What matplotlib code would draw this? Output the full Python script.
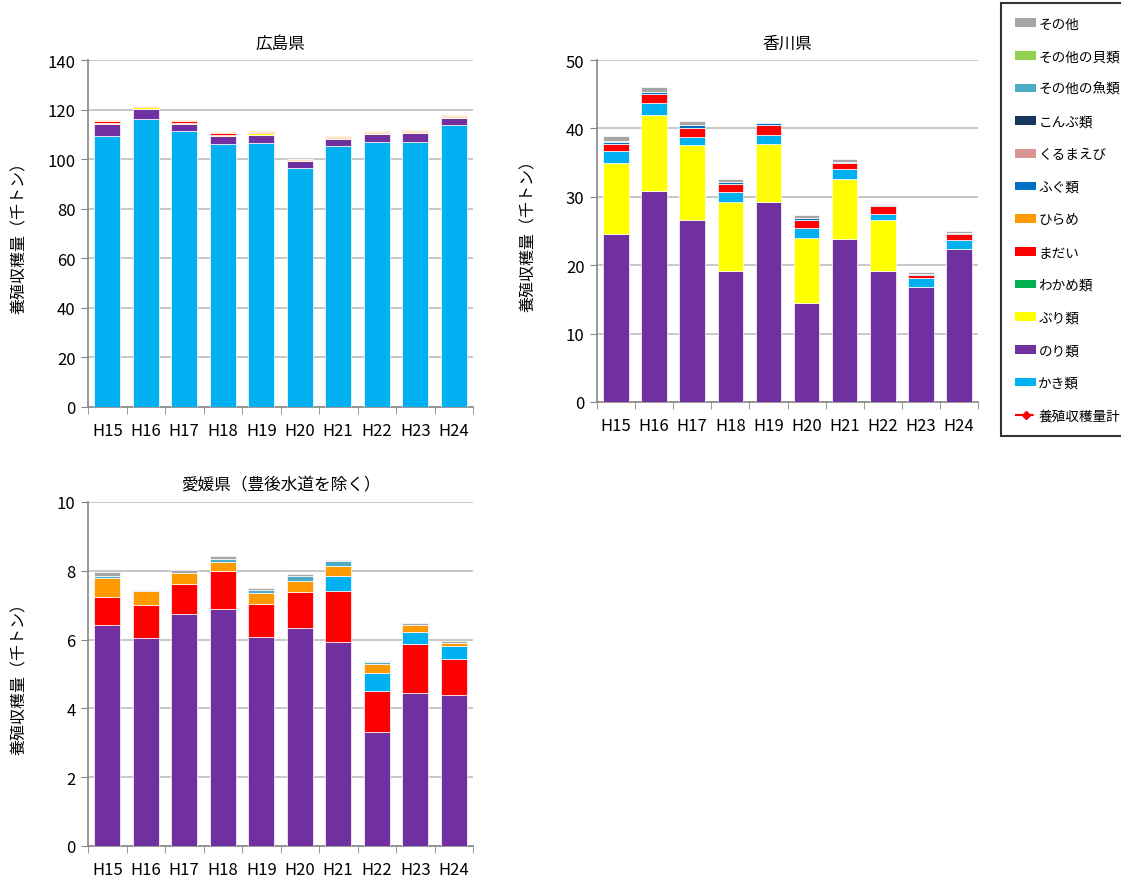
import matplotlib
matplotlib.use("Agg")
import matplotlib.pyplot as plt
from matplotlib.patches import Patch
from matplotlib.lines import Line2D
import numpy as np

plt.rcParams['font.family'] = ['Noto Sans CJK JP', 'DejaVu Sans']

years = ["H15", "H16", "H17", "H18", "H19", "H20", "H21", "H22", "H23", "H24"]

# 広島県 (千トン)
hiroshima_kaki = [109.4, 116.2, 111.3, 106.1, 106.6, 96.5, 105.4, 106.9, 107.0, 113.8]
hiroshima_nori = [4.6, 4.0, 2.9, 3.2, 3.1, 2.6, 2.7, 3.2, 3.6, 2.9]
hiroshima_buri = [0.7, 0.7, 0.5, 0.5, 0.8, 0.5, 0.4, 0.4, 0.3, 0.5]
hiroshima_madai = [0.7, 0.4, 0.7, 0.8, 0.5, 0.4, 0.4, 0.5, 0.5, 0.4]
hiroshima_hirame = [0.2, 0.3, 0.2, 0.2, 0.3, 0.2, 0.3, 0.3, 0.3, 0.3]

# 香川県 (千トン)
kagawa_nori = [24.6, 30.85, 26.6, 19.2, 29.2, 14.5, 23.8, 19.2, 16.86, 22.4]
kagawa_buri = [10.4, 11.1, 10.97, 10.0, 8.47, 9.5, 8.82, 7.4, 0.0, 0.0]
kagawa_kaki = [1.65, 1.8, 1.22, 1.5, 1.42, 1.42, 1.41, 0.93, 1.27, 1.31]
kagawa_madai = [1.1, 1.27, 1.31, 1.22, 1.46, 1.22, 0.93, 1.07, 0.47, 0.88]
kagawa_fugu = [0.25, 0.34, 0.45, 0.3, 0.25, 0.24, 0.15, 0.2, 0.1, 0.14]
kagawa_gyorui = [0.2, 0.0, 0.0, 0.0, 0.1, 0.0, 0.0, 0.0, 0.0, 0.0]
kagawa_sonota = [0.73, 0.73, 0.48, 0.4, 0.0, 0.44, 0.39, 0.1, 0.34, 0.25]

# 愛媛県（豊後水道を除く） (千トン)
ehime_nori = [6.43, 6.05, 6.74, 6.89, 6.09, 6.33, 5.94, 3.31, 4.46, 4.40]
ehime_madai = [0.82, 0.96, 0.89, 1.09, 0.95, 1.06, 1.46, 1.21, 1.42, 1.05]
ehime_kaki = [0.0, 0.0, 0.0, 0.0, 0.0, 0.0, 0.44, 0.50, 0.34, 0.36]
ehime_hirame = [0.55, 0.41, 0.32, 0.29, 0.32, 0.32, 0.30, 0.27, 0.20, 0.10]
ehime_gyorui = [0.05, 0.0, 0.0, 0.06, 0.08, 0.15, 0.14, 0.05, 0.0, 0.0]
ehime_sonota = [0.12, 0.03, 0.06, 0.10, 0.06, 0.05, 0.03, 0.04, 0.06, 0.05]

colors = {
    "かき類": "#00B0F0",
    "のり類": "#7030A0",
    "ぶり類": "#FFFF00",
    "わかめ類": "#00B050",
    "まだい": "#FF0000",
    "ひらめ": "#FF9900",
    "ふぐ類": "#0070C0",
    "くるまえび": "#D99694",
    "こんぶ類": "#17375E",
    "その他の魚類": "#4BACC6",
    "その他の貝類": "#92D050",
    "その他": "#A6A6A6",
}

charts = [
    ("広島県", [("かき類", hiroshima_kaki), ("のり類", hiroshima_nori),
               ("ぶり類", hiroshima_buri), ("まだい", hiroshima_madai),
               ("ひらめ", hiroshima_hirame)], 140, 20),
    ("香川県", [("のり類", kagawa_nori), ("ぶり類", kagawa_buri),
               ("かき類", kagawa_kaki), ("まだい", kagawa_madai),
               ("ふぐ類", kagawa_fugu), ("その他の魚類", kagawa_gyorui),
               ("その他", kagawa_sonota)], 50, 10),
    ("愛媛県（豊後水道を除く）", [("のり類", ehime_nori), ("まだい", ehime_madai),
                        ("かき類", ehime_kaki), ("ひらめ", ehime_hirame),
                        ("その他の魚類", ehime_gyorui), ("その他", ehime_sonota)], 10, 2),
]

W, H = 1121, 879
fig = plt.figure(figsize=(W / 100, H / 100), dpi=100)

# axes rectangles in pixels: (left, top, right, bottom)
boxes = [(88, 61, 473, 408), (597, 61, 978, 403), (88, 503, 473, 847)]

x = np.arange(len(years))
for (title, stack, ymax, step), (l, t, r, b) in zip(charts, boxes):
    ax = fig.add_axes([l / W, 1 - b / H, (r - l) / W, (b - t) / H])
    bottom = np.zeros(len(years))
    for name, vals in stack:
        vals = np.array(vals)
        ax.bar(x, vals, 0.67, bottom=bottom, color=colors[name],
               edgecolor="white", linewidth=0.5, zorder=3)
        bottom += vals
    ax.set_xlim(-0.5, len(years) - 0.5)
    ax.set_ylim(0, ymax)
    ax.set_yticks(np.arange(0, ymax + step / 2, step))
    ax.set_xticks(x)
    ax.set_xticklabels(years)
    ax.set_xticks(np.arange(-0.5, len(years), 1), minor=True)
    ax.tick_params(axis="x", which="major", length=0, pad=11, labelsize=12)
    ax.tick_params(axis="x", which="minor", length=5, color="#868686", direction="out")
    ax.tick_params(axis="y", length=5, color="#868686", labelsize=12, pad=4)
    ax.yaxis.grid(True, color="#BFBFBF", linewidth=1.2, zorder=0)
    ax.set_axisbelow(True)
    for s in ("top", "right"):
        ax.spines[s].set_visible(False)
    for s in ("left", "bottom"):
        ax.spines[s].set_color("#868686")
        ax.spines[s].set_linewidth(1.2)
    ax.set_title(title, fontsize=12, pad=9)
    ax.set_ylabel("養殖収穫量（千トン）", fontsize=11.5)
    # axis title sits a fixed distance left of the plot area
    ax.yaxis.set_label_coords(-60 / (r - l), 0.5)

legend_order = ["その他", "その他の貝類", "その他の魚類", "こんぶ類", "くるまえび",
                "ふぐ類", "ひらめ", "まだい", "わかめ類", "ぶり類", "のり類", "かき類"]
handles = [Patch(facecolor=colors[n], edgecolor="none") for n in legend_order]
handles.append(Line2D([0], [0], color="#FF0000", linestyle="--", linewidth=1.5,
                      marker="D", markersize=4))
labels = legend_order + ["養殖収穫量計"]
leg = fig.legend(handles, labels, loc="upper left",
                 bbox_to_anchor=(1001 / W, 1 - 4 / H), fontsize=9.8,
                 frameon=True, fancybox=False, edgecolor="black",
                 handlelength=1.6, handleheight=0.6, handletextpad=0.15,
                 labelspacing=1.37, borderpad=1.0, borderaxespad=0)
leg.get_frame().set_linewidth(1.5)

fig.savefig("out.png", dpi=100)
